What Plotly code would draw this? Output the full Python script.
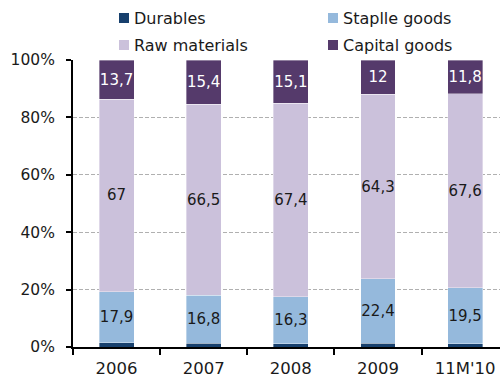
import plotly.graph_objects as go

# Structure of sales by product group, % of total
years = ["2006", "2007", "2008", "2009", "11M'10"]
durables = [1.4, 1.3, 1.2, 1.3, 1.1]
staple_goods = [17.9, 16.8, 16.3, 22.4, 19.5]
raw_materials = [67.0, 66.5, 67.4, 64.3, 67.6]
capital_goods = [13.7, 15.4, 15.1, 12.0, 11.8]


def fmt(values):
    return [f"{v:g}".replace(".", ",") for v in values]


FONT = "DejaVu Sans, Verdana, sans-serif"
TXT = "#1a1a1a"

series = [
    ("Durables", durables, "#17406d", None, "#ffffff"),
    ("Staplle goods", staple_goods, "#95b9dc", fmt(staple_goods), TXT),
    ("Raw materials", raw_materials, "#cbc1db", fmt(raw_materials), TXT),
    ("Capital goods", capital_goods, "#553a6b", fmt(capital_goods), "#ffffff"),
]

fig = go.Figure()
for name, vals, color, labels, tcolor in series:
    fig.add_trace(go.Bar(
        name=name,
        x=years,
        y=vals,
        marker=dict(color=color, line=dict(color="rgba(255,255,255,0.6)", width=0.6)),
        width=0.4,
        text=labels,
        textposition="inside" if labels else "none",
        insidetextanchor="middle",
        constraintext="none",
        textangle=0,
        textfont=dict(family=FONT, size=15, color=tcolor),
        showlegend=False,
        hoverinfo="skip",
    ))

# Two-column legend above the plot, placed in pixel terms of the plot area
PX_L, PX_R, PX_T, PX_B = 73, 500, 60, 347


def px_x(px):
    return (px - PX_L) / (PX_R - PX_L)


def px_y(py):
    return (PX_B - py) / (PX_B - PX_T)


legend_cols = [119, 328]
legend_rows = [18, 45]
for i, (name, _, color, _, _) in enumerate(series):
    cx = legend_cols[i % 2]
    cy = legend_rows[i // 2]
    fig.add_shape(
        type="rect", xref="paper", yref="paper",
        x0=px_x(cx), x1=px_x(cx + 10), y0=px_y(cy + 5), y1=px_y(cy - 5),
        fillcolor=color, line=dict(width=0),
    )
    fig.add_annotation(
        xref="paper", yref="paper", x=px_x(cx + 13), y=px_y(cy),
        xanchor="left", yanchor="middle", showarrow=False,
        text=name, font=dict(family=FONT, size=16, color=TXT),
    )

fig.update_layout(
    barmode="stack",
    width=500,
    height=380,
    margin=dict(l=PX_L, r=0, t=PX_T, b=380 - PX_B),
    plot_bgcolor="white",
    paper_bgcolor="white",
    font=dict(family=FONT, size=16, color=TXT),
    xaxis=dict(
        range=[-0.5, 4.4],
        showline=True,
        linecolor="black",
        linewidth=2,
        ticks="outside",
        tickson="boundaries",
        ticklen=6,
        tickwidth=1.5,
        tickcolor="black",
        ticklabelstandoff=5,
        showgrid=False,
        tickfont=dict(family=FONT, size=16.5, color=TXT),
        fixedrange=True,
    ),
    yaxis=dict(
        range=[0, 100],
        tickvals=[0, 20, 40, 60, 80, 100],
        ticktext=["0%", "20%", "40%", "60%", "80%", "100%"],
        showline=True,
        linecolor="black",
        linewidth=2,
        ticks="outside",
        ticklen=5,
        tickwidth=1.5,
        tickcolor="black",
        ticklabelstandoff=8,
        showgrid=True,
        gridcolor="#b0b0b0",
        griddash="4px,2px",
        gridwidth=1,
        zeroline=False,
        tickfont=dict(family=FONT, size=15.5, color=TXT),
        fixedrange=True,
    ),
)

fig.write_html("out.html")
